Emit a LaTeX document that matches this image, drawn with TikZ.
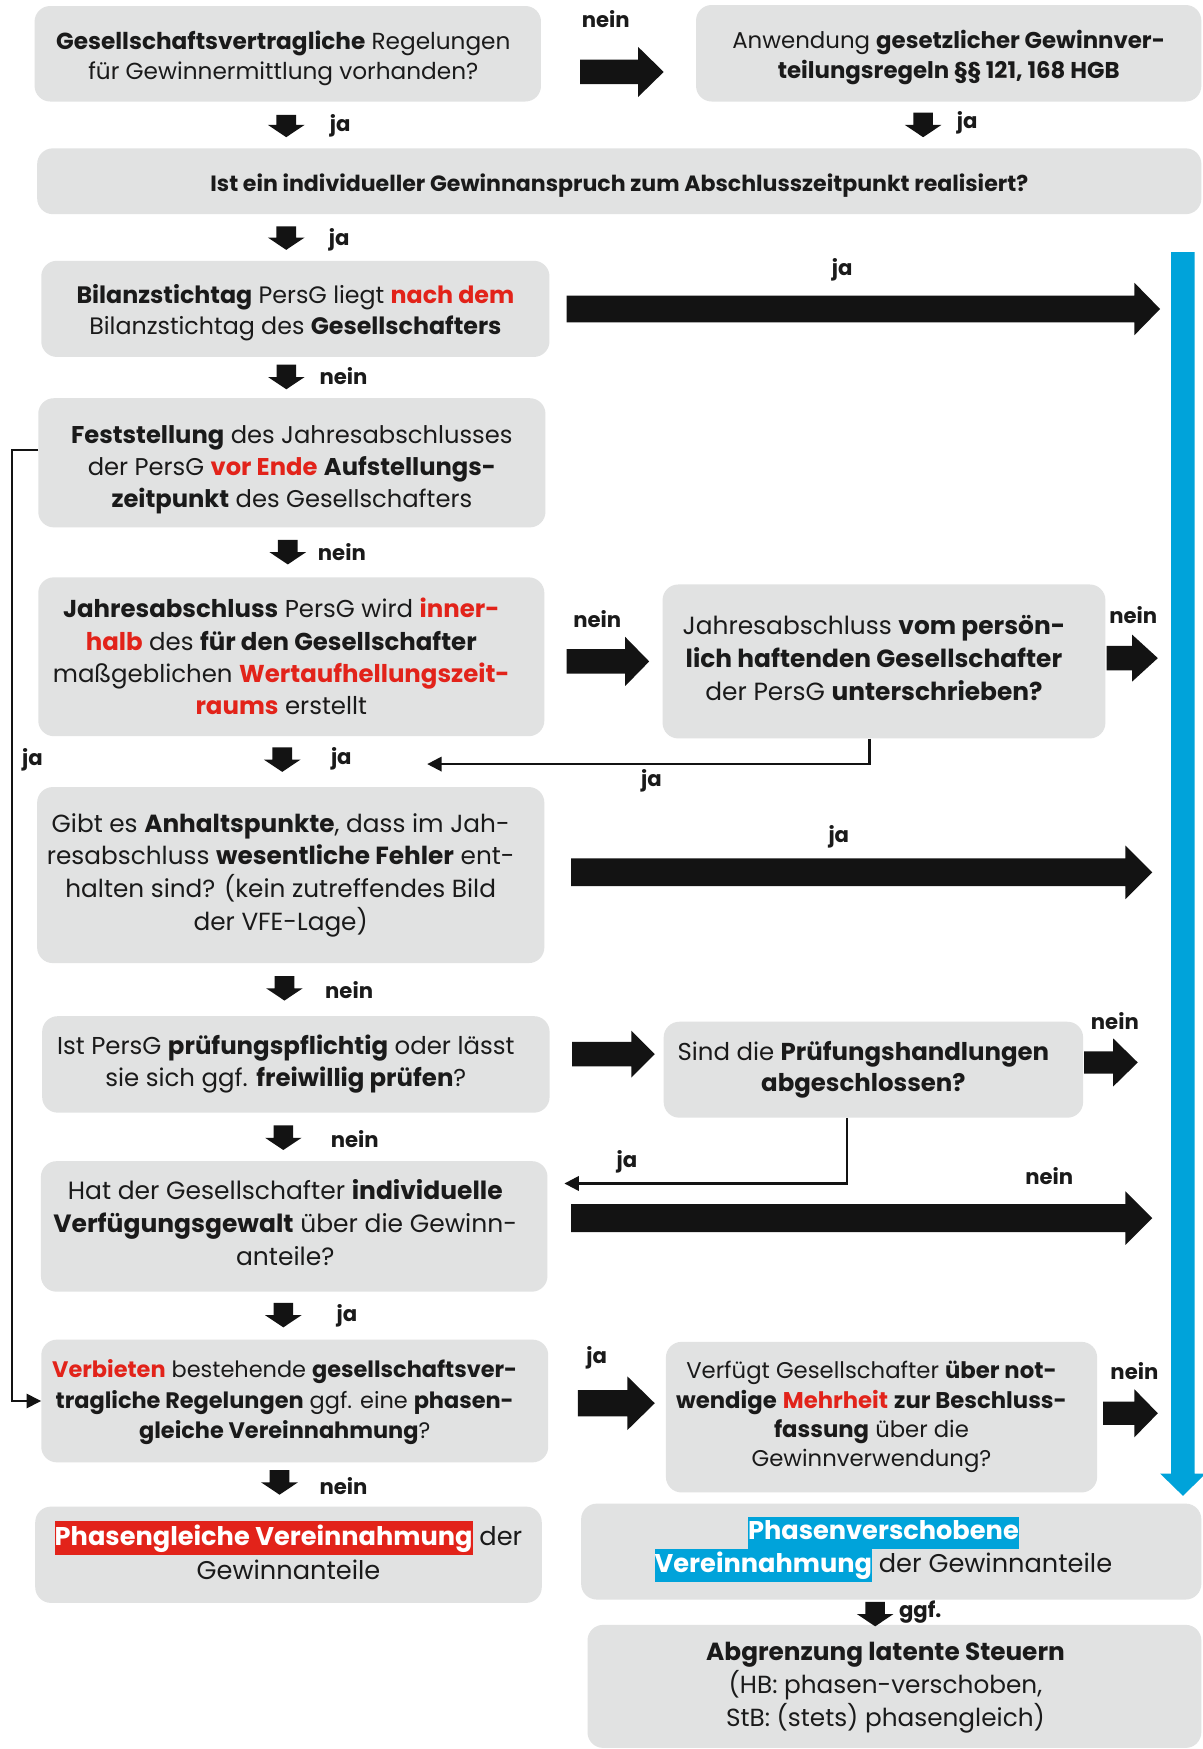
\documentclass[tikz,border=0pt]{standalone}
\usepackage{fontspec}
\setmainfont{Poppins}
\usetikzlibrary{arrows.meta,calc}
\definecolor{boxgray}{HTML}{E1E2E2}
\definecolor{hred}{HTML}{E2231A}
\definecolor{hblue}{HTML}{00A3DA}
\definecolor{ink}{HTML}{1A1A1A}
\definecolor{arrowblack}{HTML}{131313}
\newcommand{\rt}[1]{\textcolor{hred}{\textbf{#1}}}
\newcommand{\hlbox}[2]{{\setlength{\fboxsep}{0pt}\colorbox{#1}{\strut\textcolor{white}{\textbf{#2}}}}}
\newcommand{\fs}[2]{\fontsize{#1}{#2}\selectfont}
% fat right arrow: x1 x2 yc shaft-half head-half head-length
\newcommand{\fatR}[6]{\fill[arrowblack] (#1,#3-#4) -- (#2-#6,#3-#4) -- (#2-#6,#3-#5) -- (#2,#3) -- (#2-#6,#3+#5) -- (#2-#6,#3+#4) -- (#1,#3+#4) -- cycle;}
% fat down arrow: xc y1 y2
\newcommand{\fatD}[3]{\fill[arrowblack] (#1-8.8,#2) -- (#1+8.8,#2) -- (#1+8.8,#3-11) -- (#1+16.4,#3-11) -- (#1,#3) -- (#1-16.4,#3-11) -- (#1-8.8,#3-11) -- cycle;}
\tikzset{
  box/.style={rounded corners=14pt, fill=boxgray, inner sep=0pt},
  btext/.style={inner sep=0pt, align=center, text=ink},
  lbl/.style={font=\fs{19}{22}\bfseries, text=ink, inner sep=0pt},
  thinarrow/.style={draw=arrowblack, line width=1.3pt, -{Triangle[length=13pt,width=13pt]}},
}
\begin{document}
\begin{tikzpicture}[x=1pt,y=-1pt]
\useasboundingbox (0,0) rectangle (1078,1568);
\fill[white] (0,0) rectangle (1078,1568);

% boxes
\node[box, minimum width=454, minimum height=85.6] (A) at (258,48.2) {};
\node[box, minimum width=453, minimum height=86.5] (B) at (850.5,47.75) {};
\node[box, minimum width=1043.7, minimum height=59] (C) at (555.2,162.5) {};
\node[box, minimum width=455.6, minimum height=86.2] (D) at (264.8,276.9) {};
\node[box, minimum width=454.7, minimum height=115.8] (E) at (261.65,414.9) {};
\node[box, minimum width=453.7, minimum height=142.4] (F) at (261.15,588.8) {};
\node[box, minimum width=397, minimum height=138] (G) at (792.5,593) {};
\node[box, minimum width=454.7, minimum height=157.8] (H) at (260.65,784.5) {};
\node[box, minimum width=454.9, minimum height=86.5] (I) at (265.25,954.25) {};
\node[box, minimum width=376, minimum height=86] (J) at (783,959) {};
\node[box, minimum width=454.1, minimum height=117] (K) at (263.75,1099.5) {};
\node[box, minimum width=454.5, minimum height=110] (L) at (264.25,1256) {};
\node[box, minimum width=386.6, minimum height=135] (M) at (790.3,1270.5) {};
\node[box, minimum width=454.1, minimum height=86.3] (N) at (258.65,1393.85) {};
\node[box, minimum width=556, minimum height=86] (O) at (799,1391) {};
\node[box, minimum width=550.3, minimum height=110.3] (P) at (801.85,1511.85) {};

% box texts
\node[btext, font=\fs{20.8}{27}] (At) at ($(A.center)+(-4,4)$)
  {\textbf{Gesellschaftsvertragliche} Regelungen\\für Gewinnermittlung vorhanden?};
\node[btext, font=\fs{20.5}{27}] (Bt) at ($(B.center)+(0,4)$)
  {Anwendung \textbf{gesetzlicher Gewinnver-}\\\textbf{teilungsregeln §§ 121, 168 HGB}};
\node[btext, font=\fs{19.8}{24}\bfseries] (Ct) at ($(C.center)+(0,4)$)
  {Ist ein individueller Gewinnanspruch zum Abschlusszeitpunkt realisiert?};
\node[btext, font=\fs{21.3}{28}] (Dt) at ($(D.center)+(0,3.5)$)
  {\textbf{Bilanzstichtag} PersG liegt \rt{nach dem}\\Bilanzstichtag des \textbf{Gesellschafters}};
\node[btext, font=\fs{21.7}{28.7}] (Et) at ($(E.center)+(0,6.5)$)
  {\textbf{Feststellung} des Jahresabschlusses\\der PersG \rt{vor Ende} \textbf{Aufstellungs-}\\\textbf{zeitpunkt} des Gesellschafters};
\node[btext, font=\fs{21.9}{29}] (Ft) at ($(F.center)+(-9,0)$)
  {\textbf{Jahresabschluss} PersG wird \rt{inner-}\\\rt{halb} des \textbf{für den Gesellschafter}\\maßgeblichen \rt{Wertaufhellungszeit-}\\\rt{raums} erstellt};
\node[btext, font=\fs{22.3}{29.7}] (Gt) at ($(G.center)+(-9,-3)$)
  {Jahresabschluss \textbf{vom persön-}\\\textbf{lich haftenden Gesellschafter}\\der PersG \textbf{unterschrieben?}};
\node[btext, font=\fs{22.2}{29.2}] (Ht) at ($(H.center)+(-9,0)$)
  {Gibt es \textbf{Anhaltspunkte}, dass im Jah-\\resabschluss \textbf{wesentliche Fehler} ent-\\halten sind? (kein zutreffendes Bild\\der VFE-Lage)};
\node[btext, font=\fs{21.9}{28.6}] (It) at ($(I.center)+(-9,0)$)
  {Ist PersG \textbf{prüfungspflichtig} oder lässt\\sie sich ggf. \textbf{freiwillig prüfen}?};
\node[btext, font=\fs{21.9}{28.3}] (Jt) at ($(J.center)+(-9,0)$)
  {Sind die \textbf{Prüfungshandlungen}\\\textbf{abgeschlossen?}};
\node[btext, font=\fs{22.4}{29.3}] (Kt) at ($(K.center)+(-8,-3.5)$)
  {Hat der Gesellschafter \textbf{individuelle}\\\textbf{Verfügungsgewalt} über die Gewinn-\\anteile?};
\node[btext, font=\fs{20.1}{27}] (Lt) at ($(L.center)+(-9,1)$)
  {\rt{Verbieten} bestehende \textbf{gesellschaftsver-}\\\textbf{tragliche Regelungen} ggf. eine \textbf{phasen-}\\\textbf{gleiche Vereinnahmung}?};
\node[btext, font=\fs{20.4}{26.3}] (Mt) at ($(M.center)+(-9,0)$)
  {Verfügt Gesellschafter \textbf{über not-}\\\textbf{wendige} \rt{Mehrheit} \textbf{zur Beschluss-}\\\textbf{fassung} über die\\Gewinnverwendung?};
\node[btext, font=\fs{23}{31}] (Nt) at ($(N.center)+(0,-4)$)
  {\hlbox{hred}{Phasengleiche Vereinnahmung} der\\Gewinnanteile};
\node[btext, font=\fs{23}{29.3}] (Ot) at ($(O.center)+(-7,-2)$)
  {\hlbox{hblue}{Phasenverschobene}\\\hlbox{hblue}{Vereinnahmung} der Gewinnanteile};
\node[btext, font=\fs{22.2}{29.5}] (Pt) at ($(P.center)+(-8,1.5)$)
  {\textbf{Abgrenzung latente Steuern}\\(HB: phasen-verschoben,\\StB: (stets) phasengleich)};

% blue bar
\fill[hblue] (1050,226) -- (1071,226) -- (1071,1321) -- (1081,1321) -- (1060.5,1341) -- (1040,1321) -- (1050,1321) -- cycle;

% fat right arrows
\fatR{520}{595}{64.5}{11}{22.5}{23}
\fatR{508}{1040}{277}{12}{23.5}{23}
\fatR{508}{582}{593}{11}{22}{21.5}
\fatR{992}{1038}{590}{11}{21}{23}
\fatR{512}{1033}{782}{12.5}{24}{24}
\fatR{513}{587}{945}{11}{21}{21}
\fatR{972}{1020}{952.5}{10}{21.5}{22}
\fatR{512}{1033}{1092}{12.5}{24}{24}
\fatR{518}{587}{1258}{11.7}{24}{24.5}
\fatR{989}{1038}{1267}{10.5}{21.5}{21}

% fat down arrows
\fatD{256.6}{103}{123}
\fatD{827.6}{101}{123}
\fatD{256.6}{203}{224}
\fatD{256.7}{327}{349}
\fatD{258}{484}{506}
\fatD{253}{670}{692}
\fatD{255}{875}{897}
\fatD{254}{1009}{1031}
\fatD{254}{1168}{1190}
\fatD{250.6}{1318}{1340}
\fatD{784.6}{1436}{1458}

% thin connectors
\coordinate (gt) at (383,685);
\coordinate (jt) at (506,1061);
\draw[thinarrow] ($(E.west)+(0,-11.3)$) -- ++(-23.3,0) |- (L.west);
\draw[thinarrow, line width=2pt] ($(G.south)+(-13,0)$) |- (gt);
\draw[thinarrow, line width=2pt] ($(J.south)+(-24,0)$) |- (jt);

% labels
\node[lbl] (l1) at (543,17) {nein};
\node[lbl] (l2) at (305,113) {ja};
\node[lbl] (l3) at (867,110) {ja};
\node[lbl] (l4) at (304,215) {ja};
\node[lbl] (l5) at (755,242) {ja};
\node[lbl] (l6) at (308,337) {nein};
\node[lbl] (l7) at (306.5,495) {nein};
\node[lbl] (l8) at (535.5,555) {nein};
\node[lbl] (l9) at (1016,551) {nein};
\node[lbl] (l10) at (29,681) {ja};
\node[lbl] (l11) at (306,680) {ja};
\node[lbl] (l12) at (584,700) {ja};
\node[lbl] (l13) at (752,750) {ja};
\node[lbl] (l14) at (313,887.5) {nein};
\node[lbl] (l15) at (999.5,915) {nein};
\node[lbl] (l16) at (562,1042) {ja};
\node[lbl] (l17) at (940.6,1054) {nein};
\node[lbl] (l18) at (318,1021) {nein};
\node[lbl] (l19) at (311,1180) {ja};
\node[lbl] (l20) at (535,1217) {ja};
\node[lbl] (l21) at (1017,1229) {nein};
\node[lbl] (l22) at (308,1332) {nein};
\node[lbl] (l23) at (825,1445.5) {ggf.};
\end{tikzpicture}
\end{document}
